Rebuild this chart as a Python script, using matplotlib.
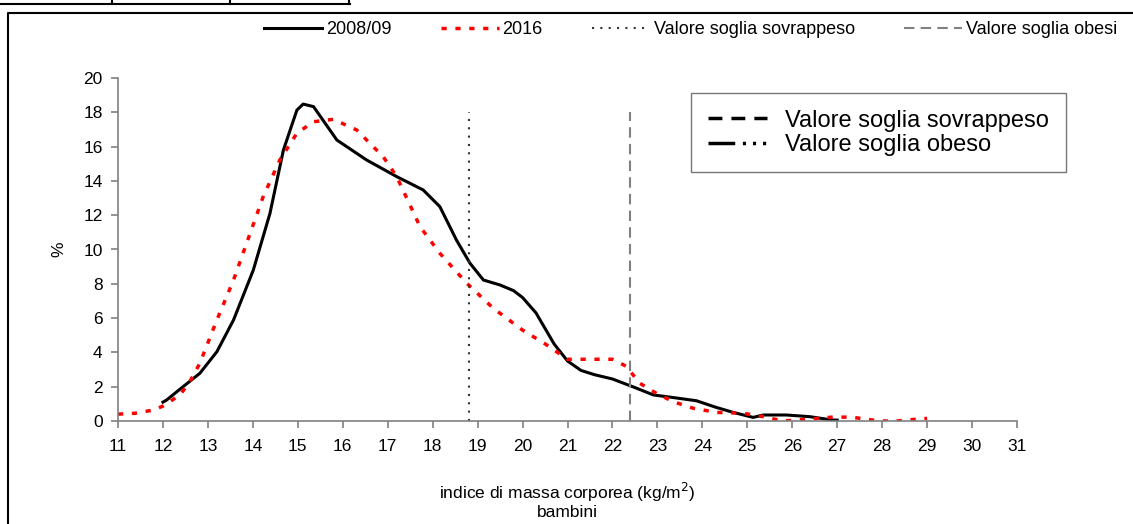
import matplotlib
matplotlib.use("Agg")
from matplotlib import pyplot as plt
from matplotlib.lines import Line2D

plt.rcParams['font.family'] = ['Liberation Sans', 'DejaVu Sans']

# BMI values (x) and % (y)
bmi_0809 = [12.0, 12.08, 12.4, 12.82, 13.2, 13.57, 14.01, 14.38, 14.68, 14.98, 15.12, 15.35,
            15.87, 16.53, 17.2, 17.79, 18.16, 18.53, 18.83, 19.13, 19.5, 19.8, 20.0, 20.3,
            20.7, 21.0, 21.3, 21.6, 22.0, 22.5, 22.91, 23.4, 23.87, 24.3, 24.69, 25.13,
            25.36, 25.87, 26.4, 26.88, 27.0]
pct_0809 = [1.1, 1.22, 1.9, 2.78, 4.04, 5.89, 8.8, 12.1, 15.8, 18.13, 18.48, 18.33,
            16.38, 15.22, 14.25, 13.47, 12.5, 10.55, 9.2, 8.22, 7.93, 7.6, 7.2, 6.3,
            4.5, 3.5, 2.95, 2.7, 2.45, 1.95, 1.52, 1.35, 1.18, 0.8, 0.5, 0.21,
            0.35, 0.35, 0.25, 0.06, 0.05]

bmi_2016 = [11.0, 11.38, 11.79, 12.0, 12.38, 12.6, 12.82, 13.2, 13.57, 13.86, 14.23, 14.6,
            14.98, 15.35, 15.79, 16.31, 16.9, 17.2, 17.72, 18.16, 18.76, 19.35, 20.0, 20.5,
            21.0, 21.5, 22.0, 22.3, 22.61, 22.98, 23.35, 23.8, 24.32, 24.91, 25.36, 25.8,
            26.32, 26.91, 27.32, 27.95, 28.32, 28.73, 29.0]
pct_2016 = [0.4, 0.45, 0.64, 0.87, 1.52, 2.3, 3.36, 5.89, 8.22, 10.36, 13.08, 15.22,
            16.78, 17.45, 17.59, 16.97, 15.41, 14.25, 11.33, 9.78, 8.03, 6.57, 5.3, 4.5,
            3.6, 3.6, 3.6, 3.2, 2.2, 1.61, 1.13, 0.74, 0.5, 0.45, 0.25, 0.0,
            0.1, 0.23, 0.22, 0.0, 0.0, 0.1, 0.15]

soglia_sovrappeso = 18.8
soglia_obesi = 22.4
soglia_top = 18

x_ticks = list(range(11, 32))
y_ticks = list(range(0, 21, 2))

fig = plt.figure(figsize=(11.33, 5.24), dpi=100)
ax = fig.add_axes([118 / 1133, 103 / 524, 899 / 1133, 343 / 524])

l1, = ax.plot(bmi_0809, pct_0809, color='black', lw=2.2, label='2008/09')
l2, = ax.plot(bmi_2016, pct_2016, color='red', lw=2.5, linestyle=(0, (1.5, 2.5)), label='2016')
l3, = ax.plot([soglia_sovrappeso, soglia_sovrappeso], [0, soglia_top], color='#333333', lw=1.5,
              linestyle=(0, (1, 3)), label='Valore soglia sovrappeso')
l4, = ax.plot([soglia_obesi, soglia_obesi], [0, soglia_top], color='#808080', lw=1.5,
              linestyle=(0, (5, 3)), label='Valore soglia obesi')

ax.set_xlim(11, 31)
ax.set_ylim(0, 20)
ax.set_xticks(x_ticks)
ax.set_yticks(y_ticks)
for s in ['top', 'right']:
    ax.spines[s].set_visible(False)
for s in ['left', 'bottom']:
    ax.spines[s].set_color('#808080')
    ax.spines[s].set_linewidth(1.2)
ax.tick_params(axis='both', colors='#808080', labelcolor='black', labelsize=12.5, length=5, width=1.2)
ax.tick_params(axis='x', pad=8)
ax.tick_params(axis='y', pad=6)
ax.set_ylabel('%', fontsize=12.5, labelpad=12)
ax.set_xlabel('indice di massa corporea (kg/m$^2$)\nbambini', fontsize=12.5, labelpad=19,
              linespacing=1.1)

# top legend
fig.legend(handles=[l1, l2, l3, l4], loc='center right', bbox_to_anchor=(1117 / 1133, 1 - 30 / 524),
           ncol=4, frameon=False, fontsize=13, handlelength=3.2, handletextpad=0.2,
           columnspacing=2.75, borderaxespad=0.0, borderpad=0.0)

# inner box legend
h_sov = Line2D([], [], color='black', lw=2.5, linestyle=(0, (4, 2.6)))
h_obe = Line2D([], [], color='black', lw=2.5, linestyle=(0, (7.7, 2.2, 0.9, 2.0, 0.9, 2.0, 0.9, 20)))
leg = ax.legend([h_sov, h_obe], ['Valore soglia sovrappeso', 'Valore soglia obeso'],
                loc='upper left', bbox_to_anchor=(573 / 899, 1 - 15 / 343), fontsize=17,
                handlelength=2.5, handletextpad=0.8, labelspacing=0.1, fancybox=False,
                borderpad=0.7, borderaxespad=0.0)
leg.get_frame().set_edgecolor('#555555')
leg.get_frame().set_linewidth(1.0)

# outer frame and table lines
fig.add_artist(Line2D([8 / 1133, 8 / 1133, 1.0], [0, 1 - 13 / 524, 1 - 13 / 524],
                      color='black', lw=1.5, transform=fig.transFigure))
fig.add_artist(Line2D([0, 350 / 1133], [1 - 4 / 524, 1 - 4 / 524], color='black', lw=1.5,
                      transform=fig.transFigure))
for xp in [112, 230, 349]:
    fig.add_artist(Line2D([xp / 1133, xp / 1133], [1 - 4 / 524, 1.0], color='black', lw=1.5,
                          transform=fig.transFigure))

fig.savefig('out.png', dpi=100)
